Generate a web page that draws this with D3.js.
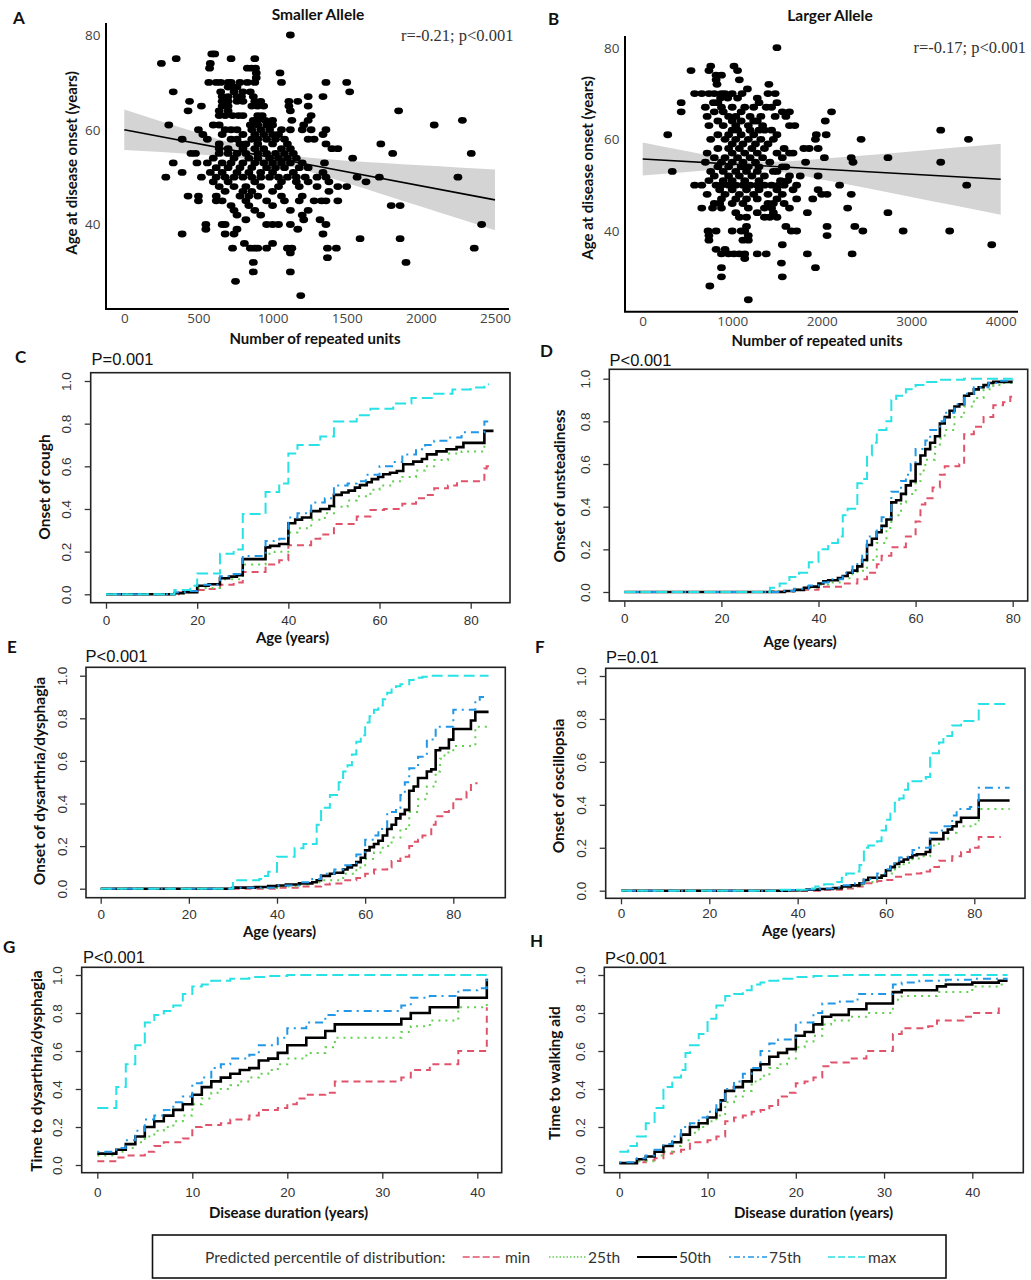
<!DOCTYPE html>
<html><head><meta charset="utf-8">
<script src="https://cdn.jsdelivr.net/npm/d3@7/dist/d3.min.js"></script>
<style>body{margin:0;background:#fff}svg{display:block}</style>
</head><body>
<script>
// ---------------- DATA ----------------
// Scatter A: Smaller allele [repeated units, age at onset]
const smallerAllele = [[1120,80],[590,76],[610,76],[350,75],[720,75],[880,75],[250,74],[580,74],[885,73],[575,73],[830,73],[860,73],[890,72],[1050,72],[890,71],
[570,70],[620,70],[650,70],[700,70],[720,70],[780,70],[830,70],[880,70],[1060,70],[1360,70],[1500,70],[700,69],[740,69],[760,69],[800,68],
[330,68],[650,68],[740,68],[1520,68],[850,68],[660,67],[700,67],[760,67],[790,67],[1240,67],[1340,67],[870,67],
[440,66],[660,66],[700,66],[760,66],[800,66],[880,66],[920,66],[1170,66],[1110,66],[520,65],[660,65],[700,65],[860,65],[900,65],[940,65],[1240,65],[1110,65],
[430,64],[640,64],[700,64],[1120,64],[1850,64],[640,63],[680,63],[730,63],[770,63],[800,63],[900,63],[930,63],[1260,63],
[870,62],[900,62],[950,62],[1000,62],[1130,62],[2280,62],[1240,62],[300,61],[600,61],[640,61],[850,61],[900,61],[960,61],[1000,61],[1210,61],[2090,61],
[500,60],[680,60],[720,60],[760,60],[860,60],[920,60],[980,60],[1060,60],[1120,60],[1200,60],[1360,60],[1260,60],
[530,59],[660,59],[800,59],[880,59],[940,59],[1000,59],[1040,59],[1340,59],
[390,58],[560,58],[720,58],[760,58],[860,58],[900,58],[960,58],[1020,58],[1080,58],[1240,58],[1280,58],
[640,57],[780,57],[820,57],[900,57],[1000,57],[1100,57],[1730,57],[1360,57],
[640,56],[700,56],[800,56],[880,56],[940,56],[1060,56],[1120,56],[1400,56],[1440,56],
[450,55],[480,55],[640,55],[700,55],[760,55],[820,55],[900,55],[960,55],[1020,55],[1080,55],[1140,55],[1810,55],[2340,55],
[600,54],[740,54],[840,54],[900,54],[980,54],[1040,54],[1100,54],[1160,54],[1540,54],
[330,53],[490,53],[560,53],[660,53],[720,53],[800,53],[880,53],[940,53],[1000,53],[1060,53],[1120,53],[1200,53],[1350,53],
[620,52],[700,52],[780,52],[860,52],[960,52],[1020,52],[1080,52],[1180,52],[1240,52],
[390,51],[580,51],[660,51],[760,51],[840,51],[920,51],[1000,51],[1140,51],[1340,51],
[280,50],[520,50],[620,50],[680,50],[740,50],[800,50],[860,50],[920,50],[980,50],[1040,50],[1100,50],[1160,50],[1220,50],[1300,50],[1360,50],[1570,50],[1720,50],[2250,50],
[600,49],[700,49],[880,49],[1060,49],[1160,49],[1240,49],[1380,49],[1630,49],
[640,48],[740,48],[820,48],[920,48],[1040,48],[1180,48],[1300,48],[1440,48],[1500,48],
[680,47],[800,47],[860,47],[1000,47],[1380,47],
[430,46],[500,46],[620,46],[780,46],[840,46],[900,46],[1060,46],[1200,46],
[500,45],[620,45],[660,45],[820,45],[960,45],[1080,45],[1180,45],[1280,45],[1330,45],[1360,45],[1440,45],
[720,44],[840,44],[1000,44],[1800,44],[1860,44],[740,43],[1120,43],[1240,43],[880,43],[760,42],[920,42],[1200,42],[820,41],[1210,41],[1320,41],
[550,40],[660,40],[680,40],[960,40],[1000,40],[1040,40],[1120,40],[1360,40],[2410,40],[550,39],[760,39],[1170,39],[390,38],[680,38],[740,38],[1340,38],
[1590,37],[1860,37],[810,36],[1000,36],[730,35],[850,35],[880,35],[900,35],[960,35],[1100,35],[1130,35],[1370,35],[1430,35],[2360,35],
[1120,34],[1370,33],[870,32],[1900,32],[870,30],[1120,30],[750,28],[1190,25]];
// Scatter B: Larger allele
const largerAllele = [[1500,80],[760,76],[1020,76],[540,75],[740,75],[1060,75],[880,74],[820,74],[820,73],[1080,73],[1410,72],[830,72],[1170,71],
[580,70],[660,70],[740,70],[800,70],[880,70],[920,70],[1000,70],[1110,70],[1400,70],[1480,70],[870,69],[950,69],[1060,69],[1280,69],
[430,68],[790,68],[840,68],[1300,68],[1500,68],[700,67],[880,67],[1000,67],[1140,67],[1240,67],[1380,67],[1440,67],
[430,66],[800,66],[900,66],[1100,66],[1560,66],[1640,66],[2110,66],[720,65],[960,65],[1040,65],[1200,65],[1320,65],[1480,65],[1600,65],
[840,64],[1000,64],[1100,64],[1240,64],[1280,64],[2040,64],[740,63],[900,63],[1040,63],[1180,63],[1340,63],[1640,63],[1700,63],
[1000,62],[1060,62],[1200,62],[1300,62],[1360,62],[1440,62],[3330,62],[280,61],[840,61],[960,61],[1100,61],[1240,61],[1500,61],[1940,61],[2050,61],
[760,60],[920,60],[1040,60],[1180,60],[1320,60],[1460,60],[1930,60],[2440,60],[3640,60],[1000,59],[1120,59],[1260,59],[1400,59],
[840,58],[960,58],[1080,58],[1220,58],[1360,58],[1580,58],[1800,58],[1860,58],[1960,58],[720,57],[1000,57],[1140,57],[1280,57],[1500,57],[1640,57],[1680,57],
[800,56],[920,56],[1060,56],[1200,56],[1340,56],[1560,56],[2030,56],[2330,56],[2740,56],[700,55],[880,55],[1000,55],[1120,55],[1260,55],[1420,55],[1820,55],[2350,55],[3330,55],
[840,54],[960,54],[1100,54],[1180,54],[1300,54],[1560,54],[1600,54],[330,53],[760,53],[900,53],[1040,53],[1160,53],[1280,53],[1460,53],[1500,53],
[800,52],[960,52],[1080,52],[1220,52],[1360,52],[1640,52],[1960,52],[1760,52],[740,51],[900,51],[1000,51],[1140,51],[1300,51],[1540,51],[1620,51],
[580,50],[660,50],[820,50],[880,50],[960,50],[1040,50],[1120,50],[1200,50],[1280,50],[1360,50],[1440,50],[1520,50],[1580,50],[1720,50],[2200,50],[3620,50],
[860,49],[1000,49],[1160,49],[1300,49],[1500,49],[1680,49],[1960,49],[720,48],[920,48],[1080,48],[1240,48],[1400,48],[1560,48],[2000,48],[2060,48],[2330,48],
[880,47],[1040,47],[1160,47],[1280,47],[1500,47],[1720,47],[1900,47],[800,46],[860,46],[1000,46],[1120,46],[1400,46],[1460,46],[1580,46],
[660,45],[780,45],[880,45],[1180,45],[1360,45],[1440,45],[1640,45],[2290,45],[1040,44],[1280,44],[1460,44],[1840,44],[2740,44],
[1080,43],[1160,43],[1360,43],[1420,43],[1500,43],[1160,41],[1600,41],[2060,41],[2370,41],
[730,40],[820,40],[1000,40],[1100,40],[1140,40],[1660,40],[1720,40],[2460,40],[2910,40],[3430,40],[740,39],[1180,39],[2060,39],[740,38],[1120,38],[1180,38],
[1560,37],[3900,37],[820,36],[920,36],[880,35],[960,35],[1020,35],[1080,35],[1140,35],[1280,35],[1380,35],[1840,35],[2340,35],
[1140,34],[1550,33],[880,32],[1930,32],[880,30],[1560,30],[750,28],[1180,25]];
// regression lines and confidence bands [units, lower, upper]
const regLineA = [[0,60.0],[2500,45.2]];
const regBandA = [[0,55.75,64.25],[250,55.28,61.76],[500,54.76,59.32],[750,54.15,56.97],[1000,53.08,55.08],[1250,51.12,54.08],[1500,48.76,53.48],[1750,46.3,52.98],[2000,43.81,52.51],[2250,41.31,52.05],[2500,38.8,51.6]];
const regLineB = [[0,55.7],[4000,51.3]];
const regBandB = [[0,52.1,59.3],[500,52.9,57.4],[1000,53.53,55.67],[1500,52.98,55.12],[2000,51.25,55.75],[2500,49.36,56.54],[3000,47.43,57.37],[3500,45.49,58.21],[4000,43.55,59.05]];
const scatterATicks = [0,500,1000,1500,2000,2500];
const scatterBTicks = [0,1000,2000,3000,4000];
const scatterYTicks = [40,60,80];
const kmAgeTicks = [0,20,40,60,80];
const kmDurTicks = [0,10,20,30,40];
const kmYTicks = [0,0.2,0.4,0.6,0.8,1.0];
const percentiles = ["min","25th","50th","75th","max"];

// KM step curves [time, cumulative probability]
const C_min=[[0,0],[16,0.01],[20,0.02],[22,0.025],[25,0.045],[28,0.055],[30,0.105],[35,0.14],[38,0.16],[40,0.23],[45,0.26],[47,0.28],[50,0.33],[55,0.365],[58,0.395],[61,0.40],[65,0.425],[68,0.45],[70,0.465],[72,0.497],[75,0.51],[77,0.53],[83,0.59],[83.5,0.60],[84,0.60]];
const C_p25=[[0,0],[15,0.005],[17,0.01],[20,0.03],[25,0.07],[30,0.14],[35,0.19],[37,0.2],[40,0.29],[42,0.31],[45,0.35],[48,0.38],[50,0.41],[53,0.44],[55,0.46],[58,0.49],[60,0.51],[63,0.53],[65,0.55],[68,0.58],[70,0.6],[72,0.63],[75,0.66],[78,0.67],[83,0.73],[84,0.73]];
const C_p50=[[0,0],[15,0.005],[17,0.01],[20,0.04],[22.5,0.047],[25,0.075],[27,0.083],[28.7,0.09],[30,0.165],[35,0.22],[36,0.227],[38,0.236],[40,0.333],[41.5,0.35],[43,0.36],[45,0.39],[47,0.40],[49,0.414],[50,0.466],[51.7,0.477],[53.2,0.486],[54.6,0.5],[55.7,0.512],[57.2,0.525],[58.3,0.54],[59.7,0.55],[60.8,0.5625],[62.3,0.57],[63.8,0.578],[65.2,0.61],[67.4,0.622],[69.3,0.634],[70.4,0.656],[72.5,0.67],[74.7,0.68],[76.9,0.69],[78.4,0.71],[83,0.766],[85,0.766]];
const C_p75=[[0,0],[15,0.01],[18,0.015],[20,0.045],[25,0.085],[28,0.095],[30,0.18],[35,0.25],[38,0.26],[40,0.36],[42,0.38],[45,0.43],[48,0.45],[50,0.51],[53,0.52],[55,0.53],[57,0.56],[60,0.6],[63,0.62],[65,0.655],[68,0.68],[70,0.7],[72,0.72],[75,0.735],[78,0.76],[83,0.81],[84,0.81]];
const C_max=[[0,0],[15,0.02],[18.5,0.04],[20,0.098],[25,0.19],[28,0.21],[30,0.377],[35,0.48],[38,0.52],[40,0.66],[42,0.70],[47,0.74],[50,0.81],[55,0.84],[58,0.87],[63,0.895],[67,0.92],[72,0.94],[76,0.96],[80,0.97],[83,0.985],[84,0.985]];

const D_min=[[0,0],[30,0.002],[35,0.01],[40,0.025],[45,0.04],[48,0.06],[50,0.09],[52,0.13],[53,0.17],[55,0.21],[58,0.26],[60,0.33],[61,0.41],[62,0.44],[63.5,0.49],[65,0.55],[66,0.59],[69,0.6],[70,0.74],[72,0.775],[74,0.82],[76,0.875],[78,0.89],[79.5,0.915],[80,0.915]];
const D_p25=[[0,0],[30,0.003],[35,0.01],[38,0.02],[40,0.035],[42,0.045],[45,0.065],[47,0.085],[48,0.1],[50,0.15],[52,0.23],[54,0.3],[55,0.36],[57,0.42],[58,0.46],[60,0.52],[61,0.57],[62,0.62],[64,0.68],[65,0.72],[66,0.76],[68,0.82],[70,0.87],[72,0.91],[74,0.95],[76,0.97],[78,0.98],[80,0.985]];
const D_p50=[[0,0],[33,0.005],[35,0.01],[37,0.02],[38,0.025],[40,0.04],[41,0.05],[42,0.055],[44,0.065],[45,0.075],[46,0.09],[47,0.1],[48,0.12],[49,0.15],[50,0.22],[51,0.25],[52,0.28],[53,0.31],[54,0.34],[55,0.42],[56,0.43],[57,0.46],[58,0.5],[59,0.52],[60,0.6],[61,0.64],[62,0.67],[63,0.7],[64,0.73],[65,0.79],[66,0.82],[67,0.85],[68,0.87],[69,0.88],[70,0.92],[71,0.93],[72,0.95],[73,0.96],[74,0.97],[75,0.98],[76,0.985],[80,0.985]];
const D_p75=[[0,0],[32,0.005],[35,0.015],[38,0.03],[40,0.045],[42,0.06],[45,0.09],[47,0.12],[48,0.14],[49,0.17],[50,0.26],[52,0.3],[53,0.35],[55,0.47],[57,0.52],[58,0.55],[59,0.6],[60,0.67],[62,0.71],[63,0.76],[65,0.8],[66,0.84],[68,0.88],[70,0.93],[72,0.96],[75,0.98],[77,0.99],[80,0.995]];
const D_max=[[0,0],[30,0.02],[32,0.04],[34,0.07],[36,0.09],[38,0.14],[40,0.2],[42,0.23],[44,0.26],[45,0.36],[46,0.39],[48,0.51],[49,0.53],[50,0.64],[51,0.7],[52,0.76],[54,0.8],[55,0.9],[56,0.92],[58,0.95],[60,0.97],[62,0.985],[65,0.995],[70,1.0],[80,1.0]];

const E_min=[[0,0],[40,0.005],[45,0.01],[50,0.02],[52,0.025],[55,0.04],[58,0.05],[60,0.07],[62,0.09],[65,0.1],[66,0.13],[68,0.15],[70,0.2],[71,0.22],[72,0.23],[73,0.25],[75,0.3],[76,0.34],[78,0.36],[79,0.37],[80,0.42],[83,0.455],[84,0.495],[85.5,0.495]];
const E_p25=[[0,0],[30,0.003],[40,0.01],[45,0.02],[48,0.03],[50,0.04],[55,0.07],[58,0.1],[60,0.14],[62,0.17],[64,0.2],[66,0.24],[68,0.28],[70,0.36],[72,0.42],[74,0.48],[76,0.55],[77,0.61],[78,0.64],[80,0.67],[84,0.67],[85,0.76],[88,0.76]];
const E_p50=[[0,0],[30,0.005],[35,0.008],[38,0.012],[40,0.015],[42,0.02],[45,0.025],[48,0.03],[49,0.04],[50,0.06],[52,0.07],[53,0.075],[55,0.09],[56,0.1],[57,0.11],[58,0.125],[59,0.145],[60,0.18],[61,0.195],[62,0.21],[63,0.225],[64,0.25],[65,0.28],[66,0.3],[67,0.33],[68,0.35],[69,0.37],[70,0.46],[71,0.48],[72,0.52],[74,0.55],[75,0.56],[76,0.65],[77,0.66],[79,0.7],[80,0.75],[84,0.79],[85,0.83],[88,0.83]];
const E_p75=[[0,0],[30,0.005],[40,0.015],[45,0.03],[48,0.045],[50,0.07],[53,0.09],[55,0.11],[58,0.16],[60,0.23],[62,0.25],[63,0.28],[65,0.36],[67,0.38],[68,0.44],[69,0.5],[70,0.565],[72,0.62],[74,0.7],[76,0.76],[79,0.76],[80,0.84],[84,0.84],[85,0.88],[86,0.9],[88,0.9]];
const E_max=[[0,0],[30,0.04],[36,0.045],[37,0.06],[38,0.08],[40,0.15],[44,0.19],[46,0.21],[49,0.3],[50,0.38],[52,0.44],[54,0.5],[55,0.55],[56,0.58],[57,0.63],[58,0.69],[59,0.72],[60,0.78],[61,0.81],[62,0.84],[63,0.86],[64,0.89],[65,0.92],[66,0.935],[67,0.95],[68,0.96],[70,0.98],[71,0.99],[73,0.995],[75,1.0],[88,1.0]];

const F_min=[[0,0],[45,0.005],[50,0.01],[53,0.02],[55,0.035],[58,0.045],[60,0.05],[62,0.065],[64,0.075],[66,0.08],[68,0.09],[70,0.11],[72,0.14],[75,0.16],[77,0.18],[79,0.2],[81,0.25],[86,0.25]];
const F_p25=[[0,0],[40,0.003],[45,0.008],[50,0.015],[53,0.025],[55,0.04],[58,0.06],[60,0.08],[62,0.11],[64,0.13],[66,0.15],[68,0.16],[70,0.21],[72,0.24],[74,0.27],[76,0.3],[80,0.31],[81,0.38],[88,0.38]];
const F_p50=[[0,0],[38,0.002],[42,0.005],[45,0.008],[48,0.012],[50,0.02],[52,0.025],[54,0.035],[55,0.05],[56,0.06],[59,0.07],[60,0.095],[61,0.11],[62,0.125],[63,0.135],[64,0.145],[65,0.155],[66,0.165],[67,0.17],[69,0.18],[70,0.24],[73,0.27],[74,0.285],[75,0.3],[76,0.32],[77,0.34],[81,0.42],[88,0.42]];
const F_p75=[[0,0],[38,0.003],[42,0.006],[45,0.01],[48,0.015],[50,0.025],[53,0.035],[55,0.055],[58,0.08],[60,0.1],[61,0.12],[62,0.14],[63,0.155],[65,0.17],[66,0.19],[67,0.2],[70,0.27],[72,0.28],[73,0.3],[75,0.35],[76,0.38],[79,0.39],[81,0.48],[88,0.48]];
const F_max=[[0,0],[36,0.005],[42,0.01],[44,0.02],[46,0.03],[48,0.04],[50,0.06],[51,0.08],[53,0.09],[54,0.12],[55,0.2],[56,0.21],[58,0.23],[59,0.28],[60,0.33],[61,0.36],[62,0.41],[63,0.43],[64,0.47],[65,0.5],[66,0.51],[68,0.52],[69,0.53],[70,0.64],[72,0.69],[73,0.72],[75,0.77],[77,0.79],[81,0.87],[88,0.87]];

const G_min=[[0,0.02],[2,0.04],[3,0.05],[5,0.07],[6,0.1],[7,0.12],[9,0.14],[10,0.2],[11,0.21],[13,0.22],[14,0.24],[16,0.26],[17,0.29],[19,0.3],[20,0.32],[21,0.35],[22,0.37],[24,0.38],[25,0.44],[32,0.46],[33,0.5],[35,0.53],[38,0.6],[41,0.83]];
const G_p25=[[0,0.05],[2,0.07],[3,0.09],[4,0.12],[5,0.15],[6,0.18],[7,0.2],[8,0.23],[9,0.26],[10,0.32],[11,0.35],[12,0.38],[13,0.4],[14,0.42],[15,0.44],[16,0.46],[17,0.48],[18,0.5],[19,0.53],[20,0.56],[22,0.59],[24,0.62],[25,0.67],[32,0.7],[33,0.73],[35,0.76],[38,0.83],[41,0.86]];
const G_p50=[[0,0.06],[2,0.08],[3,0.11],[4,0.15],[5,0.2],[6,0.23],[7,0.26],[8,0.29],[9,0.32],[10,0.37],[11,0.41],[12,0.44],[13,0.46],[14,0.48],[15,0.5],[16,0.51],[17,0.55],[18,0.56],[19,0.59],[20,0.63],[22,0.67],[24,0.705],[25,0.74],[32,0.77],[33,0.8],[35,0.83],[38,0.88],[41,0.98]];
const G_p75=[[0,0.07],[2,0.09],[3,0.13],[4,0.18],[5,0.24],[6,0.26],[7,0.29],[8,0.33],[9,0.36],[10,0.43],[11,0.46],[12,0.51],[13,0.53],[14,0.56],[16,0.58],[17,0.63],[19,0.67],[20,0.72],[22,0.75],[24,0.79],[25,0.81],[32,0.84],[33,0.88],[35,0.89],[38,0.92],[40,0.93],[41,0.98]];
const G_max=[[0,0.3],[2,0.41],[3,0.53],[4,0.63],[5,0.75],[6,0.79],[7,0.81],[8,0.84],[9,0.9],[10,0.94],[11,0.95],[12,0.97],[14,0.98],[16,0.99],[18,0.995],[20,1.0],[41,1.0]];

const H_min=[[0,0.01],[2,0.015],[3,0.025],[4,0.035],[5,0.06],[6,0.07],[7,0.08],[8,0.12],[10,0.13],[11,0.15],[12,0.23],[13,0.25],[14,0.26],[15,0.28],[16,0.29],[17,0.31],[18,0.36],[19,0.38],[20,0.43],[21,0.44],[22,0.46],[23,0.52],[24,0.54],[26,0.56],[28,0.6],[31,0.69],[32,0.72],[35,0.73],[36,0.76],[39,0.78],[40,0.8],[43,0.84]];
const H_p25=[[0,0.01],[2,0.02],[4,0.05],[5,0.07],[6,0.1],[7,0.13],[8,0.17],[9,0.2],[10,0.23],[11,0.26],[12,0.33],[13,0.36],[14,0.39],[15,0.44],[16,0.47],[17,0.51],[18,0.53],[19,0.56],[20,0.62],[21,0.65],[22,0.68],[23,0.74],[24,0.76],[26,0.78],[28,0.8],[31,0.87],[32,0.89],[36,0.91],[40,0.94],[43,0.95],[44,0.95]];
const H_p50=[[0,0.01],[2,0.03],[3,0.045],[4,0.07],[5,0.1],[6,0.12],[7,0.16],[8,0.2],[9,0.22],[10,0.25],[11,0.29],[11.5,0.34],[12,0.39],[13,0.41],[14,0.44],[15,0.5],[16,0.53],[17,0.57],[18,0.59],[19,0.61],[20,0.68],[21,0.7],[22,0.74],[23,0.78],[24,0.79],[26,0.82],[28,0.85],[31,0.91],[32,0.92],[36,0.94],[37,0.95],[40,0.96],[43,0.97],[44,0.97]];
const H_p75=[[0,0.015],[2,0.035],[3,0.05],[4,0.08],[5,0.11],[6,0.15],[7,0.2],[8,0.22],[9,0.25],[10,0.28],[11,0.33],[12,0.4],[13,0.44],[14,0.48],[15,0.51],[16,0.6],[17,0.64],[18,0.66],[20,0.75],[22,0.8],[23,0.85],[25,0.86],[27,0.9],[31,0.95],[32,0.96],[34,0.97],[37,0.975],[40,0.98],[44,0.98]];
const H_max=[[0,0.07],[1,0.1],[2,0.15],[3,0.22],[4,0.3],[5,0.41],[6,0.46],[7,0.5],[7.5,0.59],[8,0.63],[9,0.69],[10,0.77],[11,0.84],[12,0.89],[13,0.9],[14,0.92],[15,0.95],[16,0.96],[17,0.97],[18,0.98],[20,0.99],[22,0.995],[25,1.0],[44,1.0]];

// ---------------- DRAWING ----------------
const svg = d3.select("body").append("svg").attr("width",1031).attr("height",1280);
const LAB = "Lato, 'Open Sans', sans-serif";
const SANS = "'Liberation Sans', Arial, sans-serif";

const styles = [
  {color:"#DF536B", dash:"7,5",     w:2},
  {color:"#61D04F", dash:"2,5",     w:2},
  {color:"#000000", dash:null,      w:2.6},
  {color:"#2297E6", dash:"2,5,8,5", w:2},
  {color:"#28E2E5", dash:"11,5",    w:2}
];

function txt(x,y,s,o){
  const t = svg.append("text").attr("x",x).attr("y",y).text(s)
    .attr("font-family",o.ff||LAB).attr("font-size",o.fs||14)
    .attr("font-weight",o.fw||"normal").attr("fill",o.fill||"#111")
    .attr("text-anchor",o.anchor||"start");
  if(o.rot) t.attr("transform",`rotate(-90,${x},${y})`);
  if(o.dom) t.attr("dominant-baseline","central");
  return t;
}

function scatter(p){
  const x = d3.scaleLinear().domain(p.xd).range(p.xr);
  const y = d3.scaleLinear().domain([40,80]).range(p.yr);
  const g = svg.append("g");
  const area = d3.area().x(d=>x(d[0])).y0(d=>y(d[1])).y1(d=>y(d[2])).curve(d3.curveMonotoneX);
  g.append("path").datum(p.band).attr("d",area).attr("fill","#d4d4d4");
  g.selectAll("ellipse").data(p.pts).join("ellipse")
    .attr("cx",d=>x(d[0])).attr("cy",d=>y(d[1])).attr("rx",4.4).attr("ry",3.4).attr("fill","#000");
  const line = d3.line().x(d=>x(d[0])).y(d=>y(d[1]));
  g.append("path").datum(p.reg).attr("d",line).attr("stroke","#000").attr("stroke-width",1.6).attr("fill","none");
  g.append("path").attr("d",`M${p.ax},${p.ytop}V${p.ay}H${p.xend}`).attr("fill","none").attr("stroke","#000").attr("stroke-width",2);
  const xa = g.append("g").attr("transform",`translate(0,${p.ay})`)
    .call(d3.axisBottom(x).tickValues(p.xt).tickSize(0).tickPadding(4.5).tickFormat(d3.format("d")));
  const ya = g.append("g").attr("transform",`translate(${p.ax},0)`)
    .call(d3.axisLeft(y).tickValues(scatterYTicks).tickSize(0).tickPadding(5.5));
  [xa,ya].forEach(a=>{a.select(".domain").remove();
    a.attr("font-family","'Open Sans', sans-serif").attr("font-size",13.5).attr("color","#444");});
}

scatter({xd:[0,2500],xr:[124.3,495],yr:[224.5,35],pts:smallerAllele,band:regBandA,reg:regLineA,
  ax:106,ay:309,ytop:23,xend:509,xt:scatterATicks});
scatter({xd:[0,4000],xr:[642.7,1000.7],yr:[231,47.7],pts:largerAllele,band:regBandB,reg:regLineB,
  ax:625,ay:311.7,ytop:36,xend:1018,xt:scatterBTicks});

txt(318,19.5,"Smaller Allele",{fw:"bold",fs:15.5,anchor:"middle"});
txt(830,20.5,"Larger Allele",{fw:"bold",fs:15.5,anchor:"middle"});
txt(315,343.5,"Number of repeated units",{fw:"bold",fs:15,anchor:"middle"});
txt(817,345.5,"Number of repeated units",{fw:"bold",fs:15,anchor:"middle"});
txt(76.5,163,"Age at disease onset (years)",{fw:"bold",fs:15,anchor:"middle",rot:true});
txt(592.5,168,"Age at disease onset (years)",{fw:"bold",fs:15,anchor:"middle",rot:true});
txt(513.5,40.5,"r=-0.21; p<0.001",{ff:"'Liberation Serif','Times New Roman',serif",fs:16.5,anchor:"end",fill:"#333"});
txt(1026,53,"r=-0.17; p<0.001",{ff:"'Liberation Serif','Times New Roman',serif",fs:16.5,anchor:"end",fill:"#333"});

function km(p){
  const x = d3.scaleLinear().domain([0,p.xt[p.xt.length-1]]).range(p.xr);
  const y = d3.scaleLinear().domain([0,1]).range(p.yr);
  const g = svg.append("g");
  const line = d3.line().x(d=>x(d[0])).y(d=>y(d[1])).curve(d3.curveStepAfter);
  p.series.forEach((s,i)=>{
    const st = styles[i];
    g.append("path").datum(s).attr("d",line).attr("fill","none")
      .attr("stroke",st.color).attr("stroke-width",st.w)
      .attr("stroke-dasharray",st.dash);
  });
  const b = p.box;
  g.append("rect").attr("x",b[0]).attr("y",b[1]).attr("width",b[2]-b[0]).attr("height",b[3]-b[1])
    .attr("fill","none").attr("stroke","#222").attr("stroke-width",1.6);
  const xa = g.append("g").attr("transform",`translate(0,${b[3]})`)
    .call(d3.axisBottom(x).tickValues(p.xt).tickSize(6).tickPadding(p.xpad).tickFormat(d3.format("d")));
  const ya = g.append("g").attr("transform",`translate(${b[0]},0)`)
    .call(d3.axisLeft(y).tickValues(kmYTicks).tickSize(6).tickFormat(d3.format(".1f")));
  ya.selectAll(".tick text").attr("x",0).attr("dy",0).attr("text-anchor","middle")
    .attr("transform","translate(-19.5,0) rotate(-90)");
  [xa,ya].forEach(a=>{a.select(".domain").remove();
    a.attr("font-family",SANS).attr("font-size",13.5).attr("color","#333");
    a.selectAll(".tick line").attr("stroke-width",1.3);});
  txt(p.xl[0],p.xl[1],p.xlab,{fw:"bold",fs:15,anchor:"middle",dom:true});
  txt(p.yl[0],p.yl[1],p.ylab,{fw:"bold",fs:15.5,anchor:"middle",rot:true});
  txt(p.pv[0],p.pv[1],p.ptxt,{ff:SANS,fs:16.5,dom:true});
  txt(p.let[0],p.let[1],p.letter,{fw:"bold",fs:17});
}

km({letter:"C",let:[15,363],ptxt:"P=0.001",pv:[91.5,358.5],xt:kmAgeTicks,xr:[106,470.7],yr:[594.3,381],
  box:[90.7,372.7,510,602.7],xpad:6.5,xlab:"Age (years)",xl:[292.5,637],ylab:"Onset of cough",yl:[50,487],
  series:[C_min,C_p25,C_p50,C_p75,C_max]});
km({letter:"D",let:[540,357],ptxt:"P<0.001",pv:[609.5,359.5],xt:kmAgeTicks,xr:[624.3,1012.7],yr:[592,378.7],
  box:[609.3,369.3,1027.7,601],xpad:6,xlab:"Age (years)",xl:[800,641],ylab:"Onset of unsteadiness",yl:[565,486],
  series:[D_min,D_p25,D_p50,D_p75,D_max]});
km({letter:"E",let:[7,653],ptxt:"P<0.001",pv:[85.5,656],xt:kmAgeTicks,xr:[100.7,453.3],yr:[888.7,675.7],
  box:[86,667.3,505.3,897.7],xpad:6,xlab:"Age (years)",xl:[279.5,931],ylab:"Onset of dysarthria/dysphagia",yl:[44.5,781],
  series:[E_min,E_p25,E_p50,E_p75,E_max]});
km({letter:"F",let:[535,653],ptxt:"P=0.01",pv:[606,657],xt:kmAgeTicks,xr:[621,974.3],yr:[890.7,676],
  box:[605.7,668.3,1025,898.3],xpad:4.5,xlab:"Age (years)",xl:[798.5,930],ylab:"Onset of oscillopsia",yl:[563.5,786],
  series:[F_min,F_p25,F_p50,F_p75,F_max]});
km({letter:"G",let:[3,953],ptxt:"P<0.001",pv:[83,956.5],xt:kmDurTicks,xr:[97.3,477.3],yr:[1165,975],
  box:[81.7,967.3,501.7,1172.7],xpad:9,xlab:"Disease duration (years)",xl:[288.5,1211.5],ylab:"Time to dysarthria/dysphagia",yl:[42,1071],
  series:[G_min,G_p25,G_p50,G_p75,G_max]});
km({letter:"H",let:[530,947],ptxt:"P<0.001",pv:[605,957.5],xt:kmDurTicks,xr:[619.3,972.3],yr:[1165,975],
  box:[604.3,967.3,1023.3,1172.7],xpad:9,xlab:"Disease duration (years)",xl:[813.5,1211.5],ylab:"Time to walking aid",yl:[559.5,1073],
  series:[H_min,H_p25,H_p50,H_p75,H_max]});

txt(13,24,"A",{fw:"bold",fs:17});
txt(548,25,"B",{fw:"bold",fs:17});

// legend
svg.append("rect").attr("x",152.5).attr("y",1235).attr("width",793.5).attr("height",43)
  .attr("fill","none").attr("stroke","#111").attr("stroke-width",1.6);
txt(205,1257,"Predicted percentile of distribution:",{fs:15.5,fill:"#333",dom:true});
const legX = [[462.7,501.7,505],[549,586,588],[637,677,679],[729,767,769],[828,865,868]];
percentiles.forEach((lab,i)=>{
  const st = styles[i], L = legX[i];
  svg.append("line").attr("x1",L[0]).attr("x2",L[1]).attr("y1",1257).attr("y2",1257)
    .attr("stroke",st.color).attr("stroke-width",i===2?2:1.6)
    .attr("stroke-dasharray", i===0||i===4 ? "7,3" : (i===1 ? "1.5,2" : (i===3 ? "2,3,6,3" : null)));
  txt(L[2],1257,lab,{fs:15.5,fill:"#333",dom:true});
});
</script>
</body></html>
